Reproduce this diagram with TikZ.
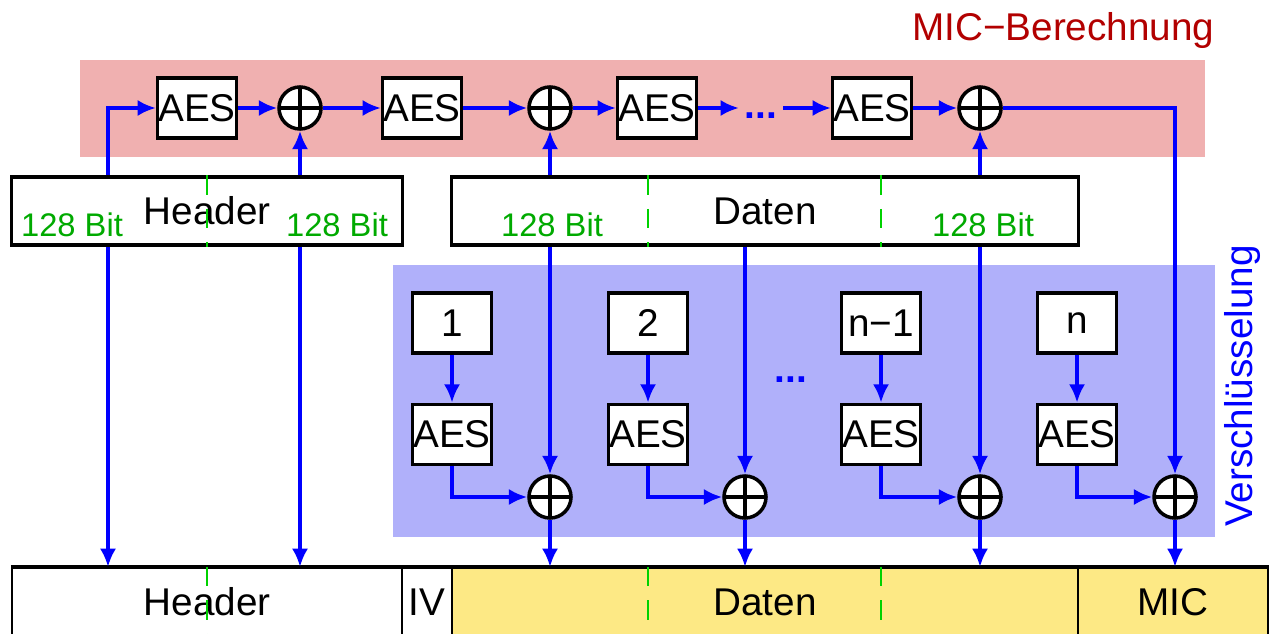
\documentclass[tikz,border=0pt]{standalone}
\usepackage{fontspec}
\setmainfont{Liberation Sans}
\usetikzlibrary{arrows.meta, positioning}

\definecolor{micbg}{RGB}{240,176,176}
\definecolor{encbg}{RGB}{176,176,250}
\definecolor{datbg}{RGB}{253,233,133}
\definecolor{bitgreen}{RGB}{0,170,0}
\definecolor{sepgreen}{RGB}{0,210,0}
\definecolor{micred}{RGB}{178,0,0}

\begin{document}
\begin{tikzpicture}[
        x=0.01cm, y=-0.01cm,
        font=\fontsize{11pt}{13pt}\selectfont,
        box/.style={draw, fill=white, line width=0.9pt, inner sep=0pt, minimum width=0.79cm, minimum height=0.6cm},
        xorop/.style={draw, circle, fill=white, line width=1pt, inner sep=0pt, minimum size=0.42cm,
            path picture={\draw[line width=1pt] (path picture bounding box.north) -- (path picture bounding box.south)
                (path picture bounding box.west) -- (path picture bounding box.east);}},
        field/.style={draw, fill=white, line width=0.9pt, inner sep=0pt, minimum height=0.68cm},
        flow/.style={-{Latex[length=5.2pt, width=4.6pt]}, blue, line width=1pt},
        sep/.style={sepgreen, line width=0.7pt, dash pattern=on 5.5pt off 4pt},
        bits/.style={text=bitgreen, inner sep=0pt, font=\fontsize{9.3pt}{11pt}\selectfont},
        dots/.style={text=blue, inner sep=0pt, inner xsep=1.5pt, text height=6pt, text depth=0pt, font=\fontsize{11pt}{13pt}\bfseries\selectfont}
    ]
        \useasboundingbox (0,0) rectangle (1274,634);
        \clip (0,0) rectangle (1274,634);

        % Areas
        \fill[micbg] (80,60) rectangle (1205,157);
        \fill[encbg] (393,265) rectangle (1215,537);
        \node[text=micred, inner sep=0pt, anchor=base east] (miclbl) at (1215,41) {MIC−Berechnung};
        \node[text=blue, inner sep=0pt, rotate=90, anchor=base] (enclbl) at (1252,386) {Verschlüsselung};

        % Plaintext frame
        \node[field, minimum width=3.9cm] (hdr) at (207,211) {Header};
        \node[field, minimum width=6.26cm] (dat) at (765,211) {Daten};
        \node[bits] (bitA) at (72,225) {128 Bit};
        \node[bits] (bitB) at (337,225) {128 Bit};
        \node[bits] (bitC) at (552,225) {128 Bit};
        \node[bits] (bitD) at (983,225) {128 Bit};
        \coordinate (tapL) at (108,211);

        % MIC chain
        \node[box] (aes1) at (197,108) {AES};
        \node[xorop] (xor1) at (300,108) {};
        \node[box] (aes2) at (422,108) {AES};
        \node[xorop] (xor2) at (550,108) {};
        \node[box] (aes3) at (657,108) {AES};
        \node[dots] (dotsT) at (761,108) {...};
        \node[box] (aes4) at (872,108) {AES};
        \node[xorop] (xor3) at (980,108) {};

        % Counter mode
        \node[box] (c1) at (452,323) {1};
        \node[box] (c2) at (648,323) {2};
        \node[box] (c3) at (881,323) {n−1};
        \node[box] (c4) at (1077,323) {n};
        \node[box, below=0.48cm of c1] (e1) {AES};
        \node[box, below=0.48cm of c2] (e2) {AES};
        \node[box, below=0.48cm of c3] (e3) {AES};
        \node[box, below=0.48cm of c4] (e4) {AES};
        \node[xorop] (o1) at (550,497) {};
        \node[xorop] (o2) at (745,497) {};
        \node[xorop] (o3) at (980,497) {};
        \node[xorop] (o4) at (1175,497) {};
        \node[dots] (dotsB) at (791,372) {...};

        % Encrypted frame
        \node[field, line width=0.6pt, minimum width=3.9cm] (bhdr) at (207,602) {Header};
        \node[field, line width=0.6pt, minimum width=0.5cm] (biv) at (427,602) {IV};
        \node[field, line width=0.6pt, fill=datbg, minimum width=6.26cm] (bdat) at (765,602) {Daten};
        \node[field, line width=0.6pt, fill=datbg, minimum width=1.9cm] (bmic) at (1173,602) {MIC};
        \draw[line width=1.2pt] (bhdr.north west) -- (bmic.north east);

        % Block borders
        \draw[sep] (hdr.north) -- (hdr.south);
        \draw[sep] (dat.north -| c2) -- (dat.south -| c2);
        \draw[sep] (dat.north -| c3) -- (dat.south -| c3);
        \draw[sep] (bhdr.north) -- (bhdr.south);
        \draw[sep] (bdat.north -| c2) -- (bdat.south -| c2);
        \draw[sep] (bdat.north -| c3) -- (bdat.south -| c3);

        % MIC flow
        \draw[flow] (tapL |- hdr.north) |- (aes1);
        \draw[flow] (aes1) -- (xor1);
        \draw[flow] (xor1) -- (aes2);
        \draw[flow] (aes2) -- (xor2);
        \draw[flow] (xor2) -- (aes3);
        \draw[flow] (aes3) -- (dotsT);
        \draw[flow] (dotsT) -- (aes4);
        \draw[flow] (aes4) -- (xor3);
        \draw[flow] (hdr.north -| xor1) -- (xor1);
        \draw[flow] (dat.north -| xor2) -- (xor2);
        \draw[flow] (dat.north -| xor3) -- (xor3);
        \draw[flow] (xor3) -| (o4);

        % Header stays plain
        \draw[flow] (tapL |- hdr.south) -- (tapL |- bhdr.north);
        \draw[flow] (hdr.south -| xor1) -- (xor1 |- bhdr.north);

        % Keystream
        \draw[flow] (c1) -- (e1);
        \draw[flow] (c2) -- (e2);
        \draw[flow] (c3) -- (e3);
        \draw[flow] (c4) -- (e4);
        \draw[flow] (e1) |- (o1);
        \draw[flow] (e2) |- (o2);
        \draw[flow] (e3) |- (o3);
        \draw[flow] (e4) |- (o4);
        \draw[flow] (dat.south -| o1) -- (o1);
        \draw[flow] (dat.south -| o2) -- (o2);
        \draw[flow] (dat.south -| o3) -- (o3);
        \draw[flow] (o1) -- (o1 |- bdat.north);
        \draw[flow] (o2) -- (o2 |- bdat.north);
        \draw[flow] (o3) -- (o3 |- bdat.north);
        \draw[flow] (o4) -- (o4 |- bmic.north);
    \end{tikzpicture}
\end{document}
